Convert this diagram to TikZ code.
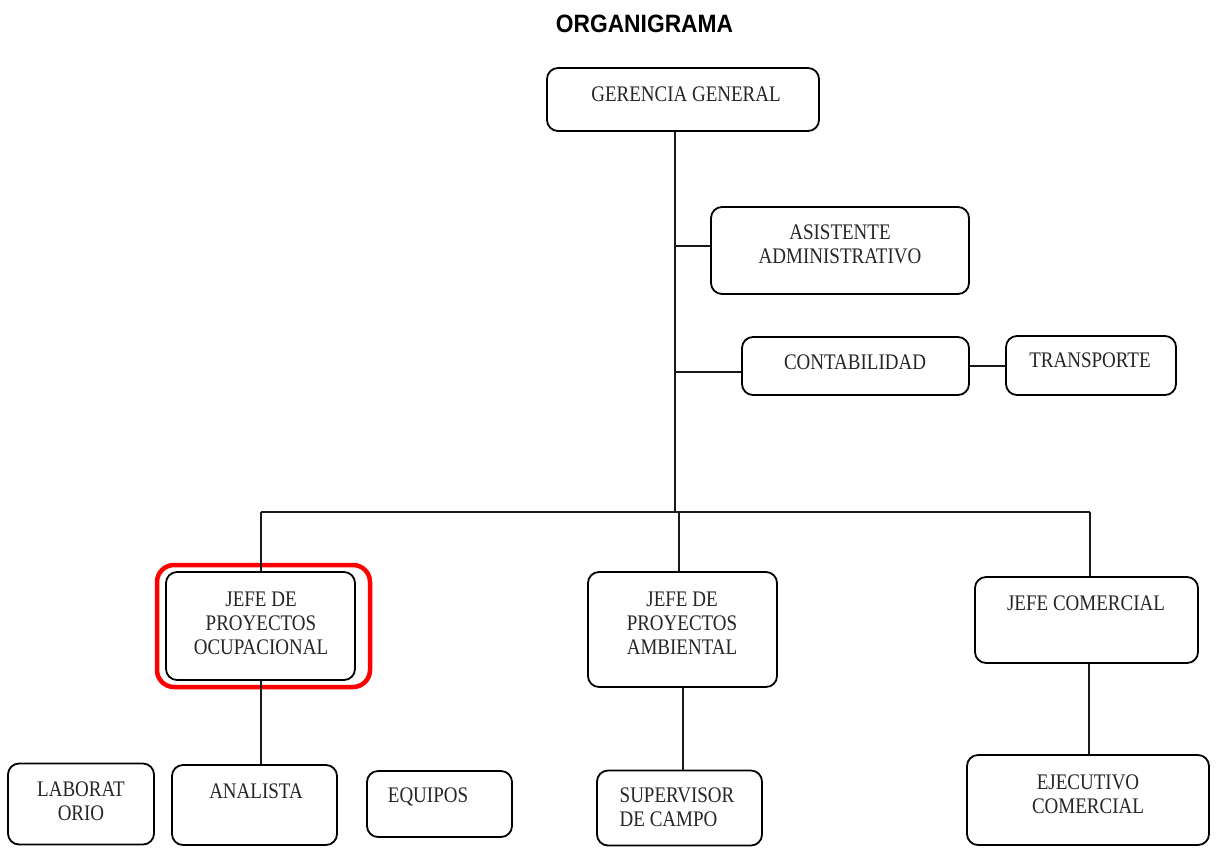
\documentclass[tikz,border=0pt]{standalone}
\usepackage{fontspec}
\setmainfont{Liberation Serif}
\newfontfamily\titlefont{Liberation Sans}
\begin{document}
\begin{tikzpicture}[x=1pt,y=-1pt,
  box/.style={draw=black, line width=1.8pt, rounded corners=11pt, inner sep=0pt},
  lbl/.style={font=\fontsize{19}{20.5}\selectfont, yscale=1.17, align=center, inner sep=0pt, text=black!85},
  link/.style={line width=1.8pt, draw=black!90},
  hilite/.style={draw=red, line width=4.5pt, rounded corners=17pt, inner sep=0pt}]
\useasboundingbox (0,0) rectangle (1217,847);
\fill[white] (0,0) rectangle (1217,847);

% title
\node[font=\titlefont\bfseries\fontsize{22.8}{26}\selectfont, yscale=1.1, inner sep=0pt] (title) at (644.5,24) {ORGANIGRAMA};

% boxes
\node[box, minimum width=272pt, minimum height=63pt] (gg) at (683,99.5) {};
\node[box, minimum width=258pt, minimum height=87pt] (asis) at (840,250.5) {};
\node[box, minimum width=227pt, minimum height=58pt] (cont) at (855.5,366) {};
\node[box, minimum width=170pt, minimum height=59pt] (trans) at (1091,365.5) {};
\node[box, minimum width=189pt, minimum height=108pt] (ocup) at (260.5,626) {};
\node[hilite, minimum width=213pt, minimum height=122pt] (hl) at (263.5,626) {};
\node[box, minimum width=189pt, minimum height=115pt] (amb) at (682.5,629.5) {};
\node[box, minimum width=223pt, minimum height=86pt] (com) at (1086.5,620) {};
\node[box, minimum width=146pt, minimum height=81pt] (lab) at (81,804) {};
\node[box, minimum width=165pt, minimum height=80pt] (anal) at (254.5,805) {};
\node[box, minimum width=145pt, minimum height=66pt] (equi) at (439.5,804) {};
\node[box, minimum width=165pt, minimum height=75pt] (sup) at (679.5,808) {};
\node[box, minimum width=242pt, minimum height=90pt] (ejec) at (1088,800) {};

% labels
\node[lbl] (tgg) at (686,94.5) {GERENCIA GENERAL};
\node[lbl] (tasis) at (840,244) {ASISTENTE\\ADMINISTRATIVO};
\node[lbl] (tcont) at (855,362) {CONTABILIDAD};
\node[lbl] (ttrans) at (1090,360) {TRANSPORTE};
\node[lbl] (tocup) at (261,623) {JEFE DE\\PROYECTOS\\OCUPACIONAL};
\node[lbl] (tamb) at (682,623.5) {JEFE DE\\PROYECTOS\\AMBIENTAL};
\node[lbl] (tcom) at (1086,603) {JEFE COMERCIAL};
\node[lbl] (tlab) at (81,801) {LABORAT\\ORIO};
\node[lbl] (tanal) at (256,791) {ANALISTA};
\node[lbl] (tequi) at (428,797) {EQUIPOS};
\node[lbl, align=left] (tsup) at (677,807) {SUPERVISOR\\DE CAMPO};
\node[lbl] (tejec) at (1088,794.5) {EJECUTIVO\\COMERCIAL};

% connectors
\coordinate (bl) at (261,512);
\coordinate (bt) at (675,512);
\coordinate (bm) at (679,512);
\coordinate (br) at (1090,512);
\coordinate (da) at (683,700);
\coordinate (dc) at (1089,700);
\draw[link] (gg.south -| bt) -- (bt);
\draw[link] ([yshift=4.5pt]asis.west) -- ([yshift=4.5pt]asis.west -| bt);
\draw[link] ([yshift=-6pt]cont.west) -- ([yshift=-6pt]cont.west -| bt);
\draw[link] (cont.east) -- (cont.east -| trans.west);
\draw[link] (bl) -- (br);
\draw[link] (bl) -- (bl |- ocup.north);
\draw[link] (bm) -- (bm |- amb.north);
\draw[link] (br) -- (br |- com.north);
\draw[link] (ocup.south -| bl) -- (bl |- anal.north);
\draw[link] (amb.south -| da) -- (da |- sup.north);
\draw[link] (com.south -| dc) -- (dc |- ejec.north);
\end{tikzpicture}
\end{document}
